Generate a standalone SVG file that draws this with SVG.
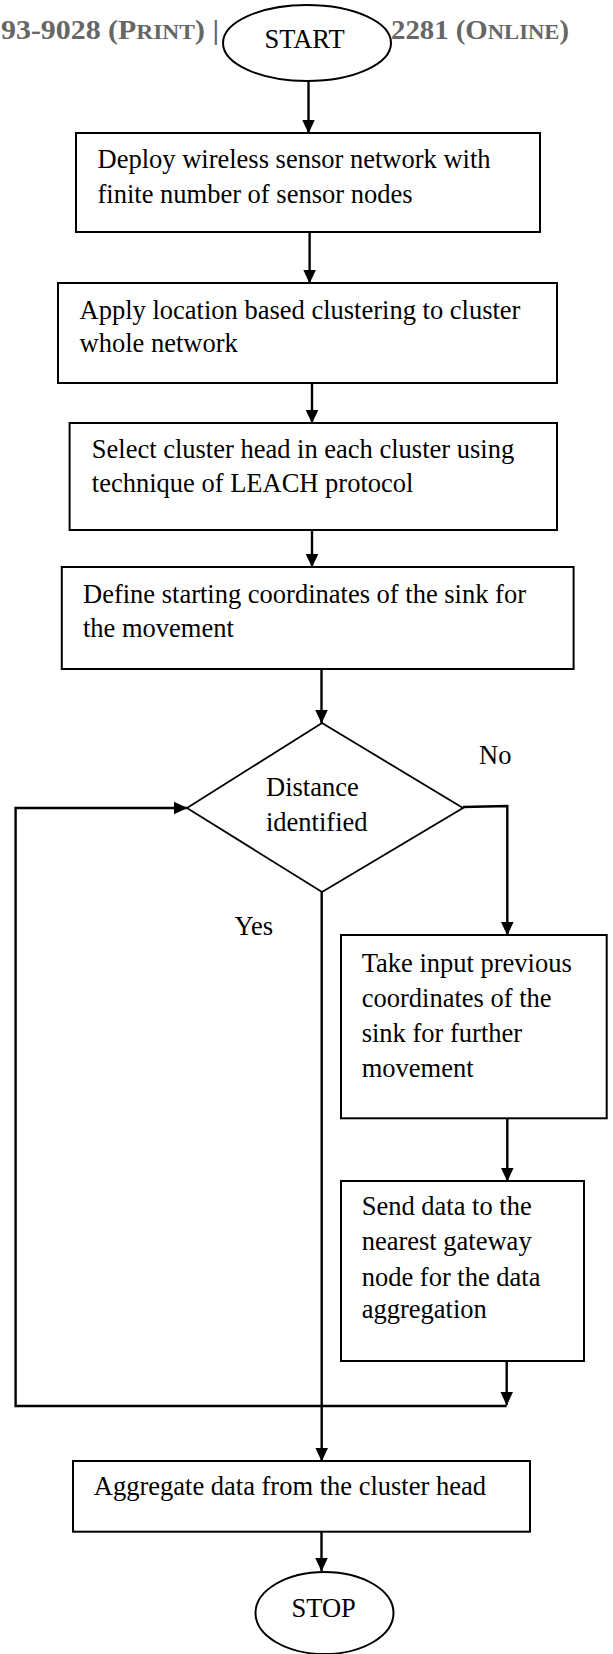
<svg xmlns="http://www.w3.org/2000/svg" width="613" height="1654" viewBox="0 0 613 1654">
<defs>
<style>
.hdr{font-family:"Liberation Serif","Times New Roman",serif;font-weight:bold;font-size:28px;fill:#666666}
.sc{font-size:22px}
.t{font-family:"Liberation Serif","Times New Roman",serif;font-size:26.5px;fill:#000}
.box{fill:#fff;stroke:#000;stroke-width:2}
.term{fill:#fff;stroke:#000;stroke-width:2}
.dia{fill:#fff;stroke:#000;stroke-width:1.8}
.c{fill:none;stroke:#000;stroke-width:2.4}
</style>
<marker id="ah" viewBox="0 0 14 14" markerWidth="14" markerHeight="14" refX="13.5" refY="7" orient="auto" markerUnits="userSpaceOnUse">
<path d="M0,0.5 L14,7 L0,13.5 Z" fill="#000"/>
</marker>
</defs>
<rect width="613" height="1654" fill="#fff"/>
<g id="header">
<text class="hdr" x="1" y="39" textLength="218" lengthAdjust="spacingAndGlyphs">93-9028 (P<tspan class="sc">RINT</tspan>) |</text>
<text class="hdr" x="391" y="39" textLength="178" lengthAdjust="spacingAndGlyphs">2281 (O<tspan class="sc">NLINE</tspan>)</text>
</g>
<g id="connectors">
<path class="c" d="M308.5,81 V133" marker-end="url(#ah)"/>
<path class="c" d="M309.6,232 V283" marker-end="url(#ah)"/>
<path class="c" d="M312,383 V423" marker-end="url(#ah)"/>
<path class="c" d="M312,530 V567" marker-end="url(#ah)"/>
<path class="c" d="M321.5,669 V723" marker-end="url(#ah)"/>
<path class="c" d="M463,807 L507.3,806 V935" marker-end="url(#ah)"/>
<path class="c" d="M507.3,1118.3 V1181" marker-end="url(#ah)"/>
<path class="c" d="M506.7,1361 V1405" marker-end="url(#ah)"/>
<path class="c" d="M506.7,1406 H15.6 V808 H187" marker-end="url(#ah)"/>
<path class="c" d="M321.7,892 V1461" marker-end="url(#ah)"/>
<path class="c" d="M321.5,1531.7 V1571" marker-end="url(#ah)"/>
</g>
<g id="start">
<ellipse class="term" cx="307" cy="43" rx="84" ry="38"/>
<text class="t" x="304.5" y="48" text-anchor="middle">START</text>
</g>
<g id="deploy">
<rect class="box" x="76" y="133" width="464" height="99"/>
<text class="t" x="97.5" y="168.3">Deploy wireless sensor network with</text>
<text class="t" x="97.5" y="202.7">finite number of sensor nodes</text>
</g>
<g id="cluster">
<rect class="box" x="58" y="283" width="499" height="100"/>
<text class="t" x="79.6" y="319.3">Apply location based clustering to cluster</text>
<text class="t" x="79.6" y="352.3">whole network</text>
</g>
<g id="head">
<rect class="box" x="69.6" y="423" width="487.4" height="107"/>
<text class="t" x="91.8" y="458.3">Select cluster head in each cluster using</text>
<text class="t" x="91.8" y="491.7">technique of LEACH protocol</text>
</g>
<g id="define">
<rect class="box" x="61.8" y="567" width="511.8" height="102"/>
<text class="t" x="83" y="603.3">Define starting coordinates of the sink for</text>
<text class="t" x="83" y="637.3">the movement</text>
</g>
<g id="decision">
<polygon class="dia" points="322,723 463,808 322,892 187,808"/>
<text class="t" x="266" y="796">Distance</text>
<text class="t" x="266" y="830.7">identified</text>
</g>
<g id="labels">
<text class="t" x="479" y="764">No</text>
<text class="t" x="234.5" y="935">Yes</text>
</g>
<g id="takeinput">
<rect class="box" x="341" y="935" width="265.7" height="183.3"/>
<text class="t" x="361.7" y="971.7">Take input previous</text>
<text class="t" x="361.7" y="1007">coordinates of the</text>
<text class="t" x="361.7" y="1041.7">sink for further</text>
<text class="t" x="361.7" y="1076.7">movement</text>
</g>
<g id="senddata">
<rect class="box" x="341" y="1181" width="243" height="180"/>
<text class="t" x="361.7" y="1215">Send data to the</text>
<text class="t" x="361.7" y="1250">nearest gateway</text>
<text class="t" x="361.7" y="1286">node for the data</text>
<text class="t" x="361.7" y="1318">aggregation</text>
</g>
<g id="aggregate">
<rect class="box" x="73" y="1461" width="457" height="70.7"/>
<text class="t" x="93.8" y="1495">Aggregate data from the cluster head</text>
</g>
<g id="stop">
<ellipse class="term" cx="324.5" cy="1613" rx="69" ry="41"/>
<text class="t" x="323.7" y="1617" text-anchor="middle">STOP</text>
</g>
</svg>
